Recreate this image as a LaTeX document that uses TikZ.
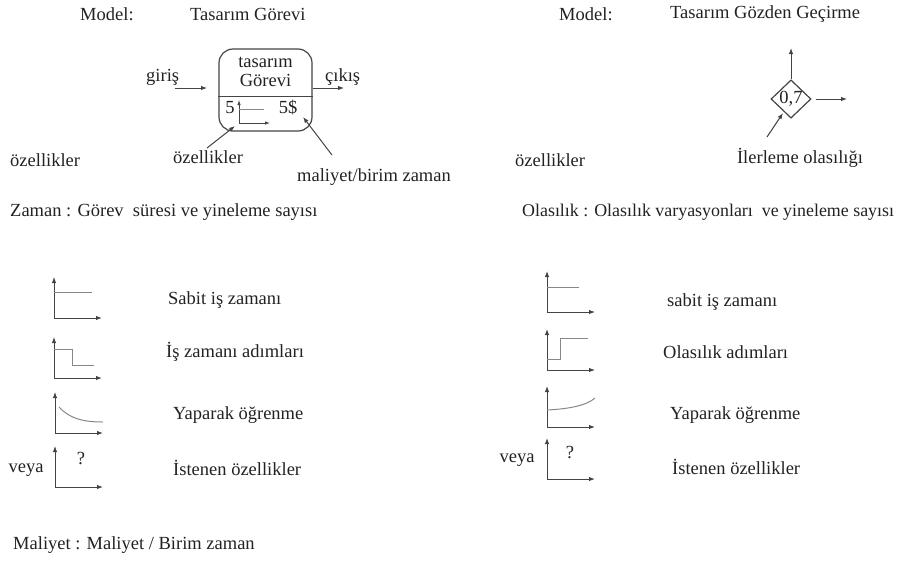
\documentclass[tikz,border=0pt]{standalone}
\usepackage{fontspec}
\setmainfont{Liberation Serif}
\usetikzlibrary{arrows.meta,shapes.geometric}
\definecolor{ink}{HTML}{222222}
\definecolor{wire}{HTML}{444444}
\definecolor{trace}{HTML}{888888}
\begin{document}
\begin{tikzpicture}[x=1pt,y=-1pt,
  txt/.style={font=\fontsize{18.5}{21}\selectfont, text=ink, inner sep=0pt},
  arr/.style={draw=wire, line width=1pt, -{Latex[length=6pt,width=4.5pt]}},
  thin/.style={draw=wire, line width=0.9pt},
  plot/.style={draw=trace, line width=1pt},
  taskbox/.style={draw=wire, line width=1.2pt, rounded corners=14pt,
    minimum width=93pt, minimum height=82pt, inner sep=0pt},
  gate/.style={diamond, draw=wire, line width=1.2pt, minimum width=40pt,
    minimum height=38pt, inner sep=0pt, font=\fontsize{18.5}{21}\selectfont, text=ink},
  axes/.pic={
    \draw[arr] (0,0) -- (0,-41);
    \draw[arr] (0,0) -- (48,0);
  }]
\useasboundingbox (0,0) rectangle (904,563);

% headings
\node[txt, anchor=west] (m1) at (80,14) {Model:};
\node[txt, anchor=west] (t1) at (190,14) {Tasarım Görevi};
\node[txt, anchor=west] (m2) at (559,14) {Model:};
\node[txt, anchor=west] (t2) at (670,14) {Tasarım Gözden Geçirme};

% task element
\node[taskbox] (task) at (265.5,90) {};
\draw[thin] ([yshift=-6pt]task.west) -- ([yshift=-6pt]task.east);
\node[txt] (tl1) at (265.5,62) {tasarım};
\node[txt] (tl2) at (265.5,80) {Görevi};
\node[txt] (five) at (230,108) {5};
\node[txt] (cost) at (288,108) {5\$};
\coordinate (o) at (239,123);
\draw[arr, line width=0.8pt, -{Latex[length=5pt,width=3.5pt]}] (o) -- (239,100);
\draw[arr, line width=0.8pt, -{Latex[length=5pt,width=3.5pt]}] (o) -- (270,123);
\draw[plot, line width=0.8pt] (239,109) -- (264,109);

\node[txt, anchor=west] (in) at (146,77) {giriş};
\node[txt, anchor=west] (out) at (325,77) {çıkış};
\coordinate (inA) at (175,88);
\coordinate (inB) at (207,88);
\coordinate (outA) at (313,88);
\coordinate (outB) at (344,88);
\draw[arr] (inA) -- (inB);
\draw[arr] (outA) -- (outB);

\node[txt] (feat) at (208,157) {özellikler};
\coordinate (featA) at (207,148);
\coordinate (featB) at (235,126);
\draw[arr] (featA) -- (featB);
\node[txt, anchor=west] (costlbl) at (297,177) {maliyet/birim zaman};
\coordinate (costA) at (332,155);
\coordinate (costB) at (303,117);
\draw[arr] (costA) -- (costB);

\node[txt, anchor=west] (featL) at (10,160) {özellikler};

% review element
\node[gate] (gate) at (791,99) {0,7};
\coordinate (up) at (791,48);
\coordinate (right) at (847,99);
\coordinate (inc) at (767,137);
\coordinate (incB) at (783,113);
\draw[arr] (gate.north) -- (up);
\draw[arr] ([xshift=4pt]gate.east) -- (right);
\draw[arr] (inc) -- (incB);
\node[txt] (prob) at (800,158) {İlerleme olasılığı};
\node[txt, anchor=west] (featR) at (515,160) {özellikler};

% section titles
\node[txt, anchor=west] (zaman) at (10,212) {Zaman : Görev\ \ süresi ve yineleme sayısı};
\node[txt, anchor=west, font=\fontsize{17.9}{21}\selectfont] (olas) at (522,212) {Olasılık : Olasılık varyasyonları\ \ ve yineleme sayısı};

% time profiles
\pic at (54,318) {axes};
\draw[plot] (54,292) -- (92,292);
\node[txt, anchor=west] (l1) at (168,300) {Sabit iş zamanı};

\pic at (54,378) {axes};
\draw[plot] (54,349) -- (72,349) -- (72,365) -- (94,365);
\node[txt, anchor=west] (l2) at (166,352) {İş zamanı adımları};

\pic at (55,433) {axes};
\draw[plot] (59,407) .. controls (70,419) and (84,422) .. (103,422);
\node[txt, anchor=west] (l3) at (173,415) {Yaparak öğrenme};

\pic at (55,487) {axes};
\node[txt] (q1) at (81,458) {?};
\node[txt] (or1) at (26,470) {veya};
\node[txt, anchor=west] (l4) at (173,468) {İstenen özellikler};

% probability profiles
\pic at (547,312) {axes};
\draw[plot] (547,287) -- (579,287);
\node[txt, anchor=west] (r1) at (667,302) {sabit iş zamanı};

\pic at (547,370) {axes};
\draw[plot] (547,359) -- (560,359) -- (560,338) -- (588,338);
\node[txt, anchor=west] (r2) at (663,352) {Olasılık adımları};

\pic at (547,427) {axes};
\draw[plot] (547,410) .. controls (567,409) and (586,406) .. (595,398);
\node[txt, anchor=west] (r3) at (670,415) {Yaparak öğrenme};

\pic at (547,479) {axes};
\node[txt] (q2) at (570,452) {?};
\node[txt] (or2) at (517,460) {veya};
\node[txt, anchor=west] (r4) at (672,467) {İstenen özellikler};

% cost
\node[txt, anchor=west] (cost2) at (13,545) {Maliyet : Maliyet / Birim zaman};
\end{tikzpicture}
\end{document}
